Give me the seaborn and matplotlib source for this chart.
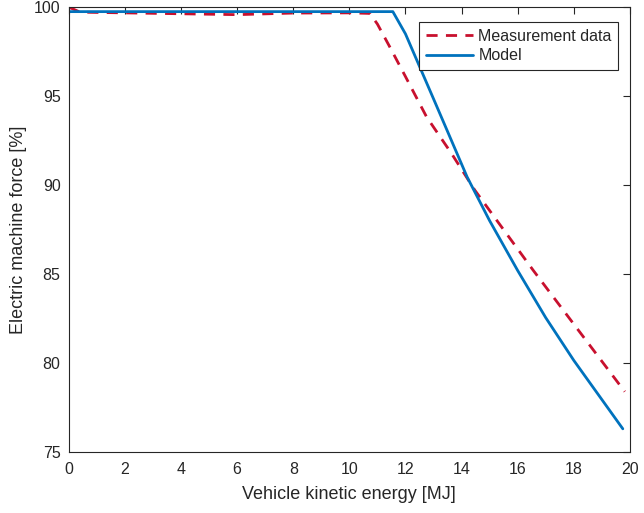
import numpy as np
import pandas as pd
import matplotlib
matplotlib.use("Agg")
import matplotlib.pyplot as plt
import seaborn as sns

# values
meas_energy = [0.0, 0.4, 2.0, 4.0, 6.0, 8.0, 10.0, 10.73, 11.0, 11.44, 12.0, 12.75, 13.64,
               14.47, 15.25, 16.55, 17.98, 19.82]
meas_force = [100.0, 99.72, 99.68, 99.63, 99.58, 99.67, 99.68, 99.65, 99.05, 97.77, 96.1, 93.84, 91.78,
              89.72, 88.03, 85.22, 82.23, 78.39]

model_energy = [0.0, 11.55, 12.0, 13.0, 14.2, 15.0, 16.0, 17.0, 18.0, 19.0, 19.75]
model_force = [99.75, 99.75, 98.5, 94.85, 90.45, 88.0, 85.2, 82.55, 80.15, 77.95, 76.3]

meas = pd.DataFrame({"energy": meas_energy, "force": meas_force})
model = pd.DataFrame({"energy": model_energy, "force": model_force})

sns.set_style("white")
plt.rcParams["font.family"] = ["Liberation Sans", "DejaVu Sans"]

fig = plt.figure(figsize=(6.44, 5.13), dpi=100)
ax = fig.add_axes([0.107, 0.119, 0.871, 0.867])

sns.lineplot(data=meas, x="energy", y="force", color="#C8102E", lw=2,
             linestyle=(0, (4, 3)), label="Measurement data", ax=ax)
sns.lineplot(data=model, x="energy", y="force", color="#0072BD", lw=2,
             label="Model", ax=ax)

ax.set_xlim(0, 20)
ax.set_ylim(75, 100)
ax.set_xticks(np.arange(0, 21, 2))
ax.set_yticks(np.arange(75, 101, 5))
ax.set_xlabel("Vehicle kinetic energy [MJ]", fontsize=13, color="#262626", labelpad=7)
ax.set_ylabel("Electric machine force [%]", fontsize=13, color="#262626", labelpad=5)
ax.tick_params(direction="in", length=5, width=0.8, top=True, right=True,
               labelsize=11.5, colors="#262626")
ax.tick_params(axis="x", pad=7)
ax.tick_params(axis="y", pad=6)
for s in ax.spines.values():
    s.set_color("#262626")
    s.set_linewidth(0.8)

leg = ax.legend(loc="upper right", bbox_to_anchor=(0.979, 0.966), fontsize=11.5,
                frameon=True, fancybox=False, edgecolor="#262626", framealpha=1,
                handlelength=3.0, borderpad=0.4, labelspacing=0.3, handletextpad=0.3,
                borderaxespad=0)
leg.get_frame().set_linewidth(0.8)

fig.savefig("out.png", dpi=100)
